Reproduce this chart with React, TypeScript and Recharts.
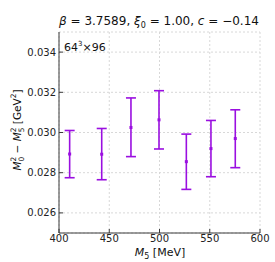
import React from 'react';
import {
  ScatterChart,
  Scatter,
  XAxis,
  YAxis,
  CartesianGrid,
  ErrorBar,
} from 'recharts';

// M5 in MeV
const m5 = [410.6, 442.5, 471.6, 499.5, 526.7, 551.2, 575.4];
// M0^2 - M5^2 in GeV^2
const diff = [0.02893, 0.02892, 0.03025, 0.03063, 0.02855, 0.0292, 0.0297];
const errLow = [0.00118, 0.00127, 0.00145, 0.00145, 0.00138, 0.0014, 0.00145];
const errHigh = [0.00117, 0.00128, 0.00147, 0.00145, 0.00137, 0.0014, 0.00143];

const xTicks = [400, 450, 500, 550, 600];
const yTicks = [0.026, 0.028, 0.03, 0.032, 0.034];

const data = m5.map((x, i) => ({ x, y: diff[i], err: [errLow[i], errHigh[i]] }));

const W = 275;
const H = 262;
const purple = '#9a0fe0';
const axisColor = '#3a3a3a';
const font = 'DejaVu Sans, sans-serif';

const Marker = (props: { cx?: number; cy?: number }) => {
  const { cx = 0, cy = 0 } = props;
  return <rect x={cx - 1.5} y={cy - 1.5} width={3} height={3} fill={purple} />;
};

export default function App() {
  const tick = { fill: '#222', fontSize: 10, fontFamily: font };
  return (
    <div style={{ position: 'absolute', left: 0, top: 0, width: W, height: H, background: '#fff' }}>
      <ScatterChart width={W} height={H} margin={{ top: 32, right: 15, left: 0, bottom: 0 }}>
        <CartesianGrid stroke="#d8d8d8" strokeDasharray="2 2" />
        <XAxis
          type="number"
          dataKey="x"
          domain={[400, 600]}
          ticks={xTicks}
          height={29}
          tick={tick}
          stroke={axisColor}
          tickSize={-4}
          tickMargin={6}
          allowDataOverflow
        />
        <XAxis
          xAxisId="top"
          orientation="top"
          type="number"
          dataKey="x"
          domain={[400, 600]}
          ticks={xTicks}
          height={0}
          tickFormatter={() => ''}
          stroke={axisColor}
          tickSize={-4}
        />
        <YAxis
          type="number"
          dataKey="y"
          domain={[0.025, 0.035]}
          ticks={yTicks}
          width={59}
          tick={tick}
          tickFormatter={(v: number) => v.toFixed(3)}
          stroke={axisColor}
          tickSize={-4}
          tickMargin={7}
          allowDataOverflow
        />
        <YAxis
          yAxisId="right"
          orientation="right"
          type="number"
          dataKey="y"
          domain={[0.025, 0.035]}
          ticks={yTicks}
          width={0}
          tickFormatter={() => ''}
          stroke={axisColor}
          tickSize={-4}
        />
        <Scatter data={data} fill={purple} shape={<Marker />} isAnimationActive={false}>
          <ErrorBar dataKey="err" direction="y" width={5} stroke={purple} strokeWidth={1.6} />
        </Scatter>
      </ScatterChart>
      <svg
        width={W}
        height={H}
        style={{ position: 'absolute', left: 0, top: 0, pointerEvents: 'none' }}
        fontFamily={font}
        fill="#111"
      >
        <text x={159} y={25} fontSize={12} textAnchor="middle">
          <tspan fontStyle="italic">β</tspan> = 3.7589, <tspan fontStyle="italic">ξ</tspan>
          <tspan fontSize={8} dy={3}>0</tspan>
          <tspan dy={-3}> = 1.00, </tspan>
          <tspan fontStyle="italic">c</tspan> = −0.14
        </text>
        <text x={64} y={51} fontSize={11}>
          64<tspan fontSize={7} dy={-5}>3</tspan>
          <tspan dy={5}>×96</tspan>
        </text>
        <text x={160} y={256} fontSize={11} textAnchor="middle">
          <tspan fontStyle="italic">M</tspan>
          <tspan fontSize={8} dy={3}>5</tspan>
          <tspan dy={-3}> [MeV]</tspan>
        </text>
        <text x={0} y={0} fontSize={10.5} textAnchor="middle" transform="translate(21,130) rotate(-90)">
          <tspan fontStyle="italic">M</tspan>
          <tspan fontSize={7.5} dy={-5}>2</tspan>
          <tspan fontSize={7.5} dx={-4.8} dy={8}>0</tspan>
          <tspan dy={-3}> − </tspan>
          <tspan fontStyle="italic">M</tspan>
          <tspan fontSize={7.5} dy={-5}>2</tspan>
          <tspan fontSize={7.5} dx={-4.8} dy={8}>5</tspan>
          <tspan dy={-3}> [GeV</tspan>
          <tspan fontSize={7.5} dy={-5}>2</tspan>
          <tspan dy={5}>]</tspan>
        </text>
      </svg>
    </div>
  );
}
